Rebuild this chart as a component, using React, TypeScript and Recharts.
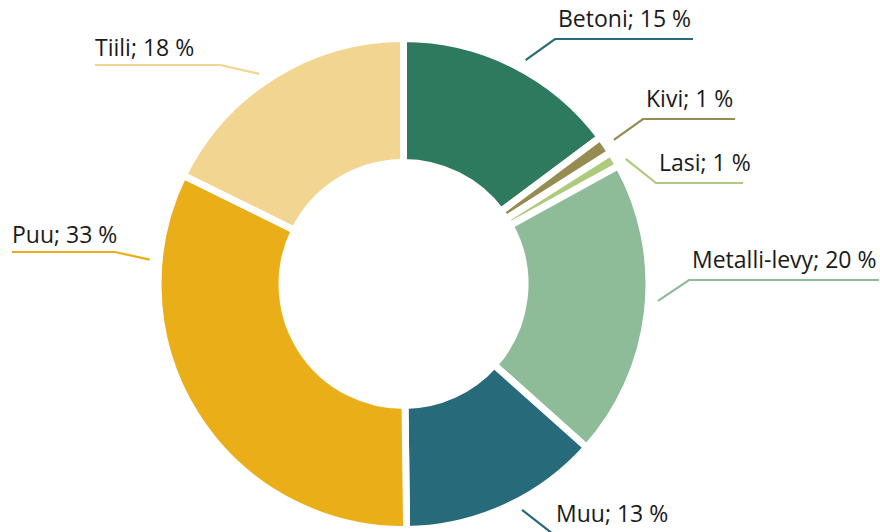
import React from "react";
import { PieChart, Pie, Cell } from "recharts";

const categories = ["Betoni", "Kivi", "Lasi", "Metalli-levy", "Muu", "Puu", "Tiili"];
const values = [14.8, 1.2, 1.0, 19.6, 13.2, 32.5, 17.7];
const labelPercents = [15, 1, 1, 20, 13, 33, 18];
const colors = ["#2E7A5E", "#968B50", "#ACCB7B", "#8FBC98", "#276A7A", "#EAAE18", "#F2D590"];
const lineColors = ["#2A6D7A", "#968B50", "#ACCB7B", "#8FBC98", "#276A7A", "#EAAE18", "#F2D590"];

const data = categories.map((name, i) => ({ name, value: values[i], pct: labelPercents[i] }));

// label layout: angle (deg clockwise from top) where the leader line touches,
// elbow offset from the centre, and x offset of the far end of the horizontal line
const labelLayout = [
  { deg: 28.6, ex: 151.5, ey: -245, end: 289.5 },
  { deg: 55.6, ex: 239.5, ey: -165, end: 331.5 },
  { deg: 60.6, ex: 252.5, ey: -101, end: 339.5 },
  { deg: 93.8, ex: 285.5, ey: -4, end: 475.5 },
  { deg: 152.3, ex: 149.5, ey: 250, end: 261.5 },
  { deg: 275.5, ex: -288.5, ey: -32, end: -391.5 },
  { deg: 325.5, ex: -183.5, ey: -219, end: -308.5 },
];

const GAP = 7;
const R_OUT = 242;
const R_IN = 125;

const renderLabel = (props: any) => {
  const { cx, cy, index } = props;
  const L = labelLayout[index];
  const d = data[index];
  const rad = (L.deg * Math.PI) / 180;
  const r0 = R_OUT + 13;
  const sx = cx + r0 * Math.sin(rad);
  const sy = cy - r0 * Math.cos(rad);
  const exx = cx + L.ex;
  const eyy = cy + L.ey;
  const endx = cx + L.end;
  const right = L.end > L.ex;
  const tx = right ? exx + 3 : endx;
  const ty = right ? eyy - 12 : eyy - 9;
  return (
    <g key={`lbl-${index}`}>
      <polyline
        points={`${sx},${sy} ${exx},${eyy} ${endx},${eyy}`}
        fill="none"
        stroke={lineColors[index]}
        strokeWidth={2.2}
      />
      <text x={tx} y={ty} fill="#1a1a1a" fontSize={23} fontFamily="'Open Sans', 'Noto Sans', sans-serif" textAnchor="start">
        {`${d.name}; ${d.pct} %`}
      </text>
    </g>
  );
};

export default function App() {
  return (
    <div style={{ position: "absolute", left: 0, top: 0, width: 880, height: 532, background: "#fff" }}>
      <PieChart width={880} height={532} margin={{ top: 0, right: 0, bottom: 0, left: 0 }}>
        <Pie
          data={data}
          dataKey="value"
          nameKey="name"
          cx={403.5}
          cy={284}
          outerRadius={R_OUT + GAP / 2}
          innerRadius={R_IN - GAP / 2}
          startAngle={90}
          endAngle={-270}
          stroke="#ffffff"
          strokeWidth={GAP}
          isAnimationActive={false}
          labelLine={false}
          label={renderLabel}
        >
          {data.map((d, i) => (
            <Cell key={d.name} fill={colors[i]} stroke="#ffffff" strokeWidth={GAP} />
          ))}
        </Pie>
      </PieChart>
    </div>
  );
}
